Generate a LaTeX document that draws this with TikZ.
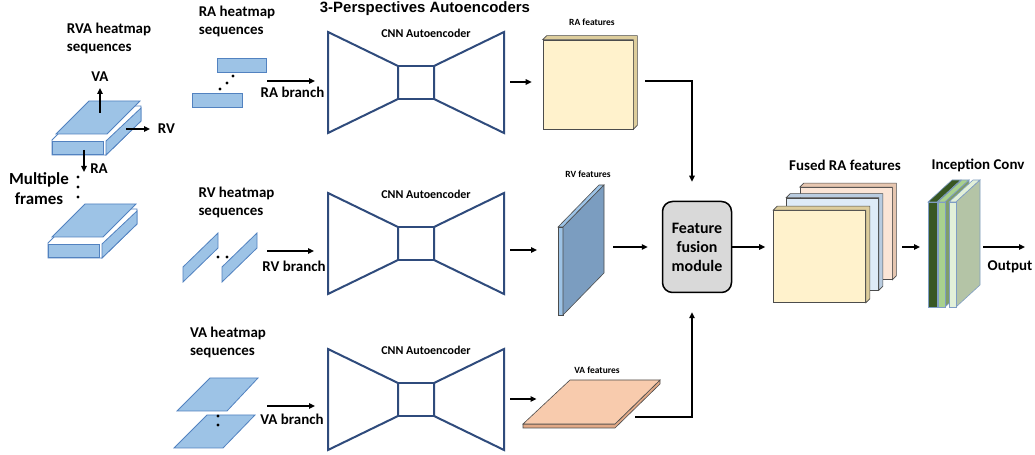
\documentclass[tikz,border=0pt]{standalone}
\usepackage{fontspec}
\setmainfont{Carlito}
\newfontfamily\titlefont{Liberation Sans}
\usetikzlibrary{arrows.meta,positioning}
\definecolor{navy}{HTML}{2F4B7C}
\definecolor{heat}{HTML}{9DC3E6}
\definecolor{heatline}{HTML}{5282C0}
\definecolor{cream}{HTML}{FFF2CC}
\definecolor{creamside}{HTML}{DDCD9C}
\definecolor{peach}{HTML}{F8CBAD}
\definecolor{peachside}{HTML}{E2A986}
\definecolor{paleblue}{HTML}{DEEBF7}
\definecolor{palebluesid}{HTML}{B9CCE0}
\definecolor{palepeach}{HTML}{FBE5D6}
\definecolor{palepeachsid}{HTML}{E6C6B0}
\definecolor{steel}{HTML}{7B9DC0}
\definecolor{fusegray}{HTML}{D9D9D9}
\definecolor{darkgreen}{HTML}{385723}
\definecolor{midgreen}{HTML}{A9D18E}
\definecolor{lightgreen}{HTML}{E2F0D9}
\definecolor{sagegreen}{HTML}{B4C4A6}
\definecolor{slabline}{HTML}{7F9DC4}

\begin{document}
\begin{tikzpicture}[x=1bp,y=-1bp,>={Triangle[length=6bp,width=5.5bp]},
    lbl/.style={font=\fontsize{15}{18}\selectfont\bfseries,inner sep=0pt,align=left},
    small/.style={font=\fontsize{12}{14}\selectfont\bfseries,inner sep=0pt},
    tiny/.style={font=\fontsize{9.5}{11}\selectfont\bfseries,inner sep=0pt},
    heatmap/.style={fill=heat,draw=heatline,line width=.8bp},
    arr/.style={->,line width=1.6bp},
    aeline/.style={navy,line width=2bp,line join=miter},
    ghost/.style={inner sep=0pt,outer sep=0pt},
    feat/.style={draw=black!70,line width=.6bp},
    dot/.style={fill=black}]
    \useasboundingbox[fill=white] (0,0) rectangle (1035,455);

    % titles and input labels
    \node[font=\titlefont\fontsize{15}{18}\selectfont\bfseries,inner sep=0pt] (title) at (425,9) {3-Perspectives Autoencoders};
    \node[lbl] (rvatxt) at (109,38) {RVA heatmap\\sequences};
    \node[lbl] (ratxt) at (237,21) {RA heatmap\\sequences};
    \node[lbl] (rvtxt) at (236.5,202) {RV heatmap\\sequences};
    \node[lbl] (vatxt) at (228,342.5) {VA heatmap\\sequences};
    \node[lbl,align=center,font=\fontsize{17}{20}\selectfont\bfseries] (frames) at (39,189) {Multiple\\frames};

    % RVA blocks (two frames)
    \foreach \dx/\dy in {0/0,-4/103}{
      \begin{scope}[shift={(\dx,\dy)}]
        \filldraw[heatmap,fill=white] (52,140) -- (86,106) -- (141,106) -- (141,121) -- (106,155) -- (52,155) -- cycle;
        \filldraw[heatmap] (52,141) rectangle (103,154);
        \filldraw[heatmap] (106,155) -- (106,141) -- (141,108) -- (141,121) -- cycle;
        \filldraw[heatmap] (56,134) -- (89,101) -- (140,101) -- (107,134) -- cycle;
      \end{scope}
    }
    \foreach \y in {177,187,197}
      \fill[dot] (78,\y) circle (1.7);

    % axis arrows of the RVA block
    \coordinate (va0) at (100,113);
    \coordinate (va1) at (100,88);
    \coordinate (rv0) at (126,129);
    \coordinate (rv1) at (150,129);
    \coordinate (ra0) at (84,150);
    \coordinate (ra1) at (84,172);
    \draw[arr] (va0) -- (va1) node[lbl,above=6bp] (valbl) {VA};
    \draw[arr] (rv0) -- (rv1) node[lbl,right=7bp] (rvlbl) {RV};
    \draw[arr] (ra0) -- (ra1);
    \node[lbl] (ralbl) at (99,169) {RA};

    % RA heatmaps
    \filldraw[heatmap] (217,58) rectangle (266,72);
    \filldraw[heatmap] (192,93) rectangle (242,107);
    \foreach \x/\y in {220/89,227/83,233/76}
      \fill[dot] (\x,\y) circle (1.7);

    % RV heatmaps
    \foreach \dx in {0,39}
      \filldraw[heatmap] (183+\dx,282) -- (183+\dx,267) -- (218+\dx,233) -- (218+\dx,248) -- cycle;
    \foreach \x in {218,227}
      \fill[dot] (\x,257) circle (1.7);

    % VA heatmaps
    \filldraw[heatmap] (177,411) -- (210,378) -- (258,378) -- (227,411) -- cycle;
    \filldraw[heatmap] (174,448) -- (207,415) -- (255,415) -- (223,448) -- cycle;
    \foreach \y in {416,425}
      \fill[dot] (218,\y) circle (1.7);

    % CNN autoencoders
    \foreach \n/\y in {1/32,2/193,3/349}{
      \node[ghost,minimum width=176bp,minimum height=100bp] (ae\n) at (416,\y+50) {};
      \begin{scope}[shift={(328,\y)}]
        \draw[aeline] (0,0) -- (70,34) -- (70,67) -- (0,101) -- cycle;
        \draw[aeline] (176,0) -- (106,34) -- (106,67) -- (176,101) -- cycle;
        \draw[aeline] (70,34) -- (106,34) (70,67) -- (106,67);
      \end{scope}
      \node[small] (aetxt\n) at (426,\y+1) {CNN Autoencoder};
    }

    % branch arrows
    \draw[arr,shorten >=13bp] ([shift={(-61,-1)}]ae1.west) -- ([shift={(0,-1)}]ae1.west);
    \node[lbl] (rabr) at (292.5,92) {RA branch};
    \draw[arr,shorten >=14bp] ([shift={(-61,8)}]ae2.west) -- ([shift={(0,8)}]ae2.west);
    \node[lbl] (rvbr) at (294,266) {RV branch};
    \draw[arr,shorten >=13bp] ([shift={(-61,7)}]ae3.west) -- ([shift={(0,7)}]ae3.west);
    \node[lbl] (vabr) at (292,419) {VA branch};

    % RA features
    \node[feat,fill=cream,minimum width=90bp,minimum height=89bp] (raf) at (588,84.5) {};
    \filldraw[feat,fill=creamside] (raf.north west) -- ([shift={(4,-4)}]raf.north west) -- ([shift={(4,-4)}]raf.north east)
      -- ([shift={(4,-4)}]raf.south east) -- (raf.south east) -- (raf.north east) -- cycle;
    \node[tiny] (raftxt) at (592,22) {RA features};

    % RV features
    \node[ghost,minimum width=46bp,minimum height=130bp] (rvf) at (581,250) {};
    \filldraw[feat,fill=heat] (558,227) -- (599,185) -- (604,185) -- (563,227) -- cycle;
    \filldraw[feat,fill=heat] (558,227) rectangle (563,315);
    \filldraw[feat,fill=steel] (563,227) -- (604,185) -- (604,273) -- (563,315) -- cycle;
    \node[tiny] (rvftxt) at (588,174) {RV features};

    % VA features
    \node[ghost,minimum width=137bp,minimum height=50bp] (vaf) at (591.5,405) {};
    \filldraw[feat,fill=peachside] (523,424) -- (615,424) -- (660,380) -- (660,384) -- (615,428) -- (523,428) -- cycle;
    \filldraw[feat,fill=peach] (523,424) -- (570,380) -- (660,380) -- (615,424) -- cycle;
    \node[tiny] (vaftxt) at (597,370) {VA features};

    % features to autoencoders
    \draw[arr,shorten <=6bp,shorten >=11bp] (ae1.east) -- (ae1.east -| raf.west);
    \draw[arr,shorten <=6bp,shorten >=21bp] (ae2.east |- rvf.west) -- (rvf.west);
    \draw[arr,shorten <=6bp,shorten >=55bp] (ae3.east) -- (ae3.east -| vaf.center);

    % fusion
    \node[draw,line width=1.5bp,fill=fusegray,rounded corners=10bp,minimum width=69bp,minimum height=91bp,align=center,
      font=\fontsize{16}{19}\selectfont\bfseries,inner sep=0pt] (fusion) at (697,247) {Feature\\fusion\\module};
    \draw[arr,shorten >=19bp] ([shift={(12,-3.5)}]raf.east) -| ([shift={(-5,0)}]fusion.north);
    \draw[arr,shorten <=9bp,shorten >=14bp] (rvf.east |- fusion.west) -- (fusion.west);
    \draw[arr,shorten >=19bp] ([shift={(-25,12)}]vaf.east) -| ([shift={(-5,0)}]fusion.south);

    % fused RA features
    \foreach \nm/\cx/\cy/\col/\sid in {frb/846/233.5/palepeach/palepeachsid,frm/832.5/244/paleblue/palebluesid,frf/819.5/256.5/cream/creamside}{
      \node[feat,fill=\col,minimum width=92bp,minimum height=92bp] (\nm) at (\cx,\cy) {};
      \filldraw[feat,fill=\sid] (\nm.north west) -- ([shift={(4,-4)}]\nm.north west) -- ([shift={(4,-4)}]\nm.north east)
        -- ([shift={(4,-4)}]\nm.south east) -- (\nm.south east) -- (\nm.north east) -- cycle;
    }
    \node[lbl] (fusedtxt) at (845,165) {Fused RA features};
    \draw[arr,shorten >=8bp] (fusion.east) -- (fusion.east -| frf.west);

    % inception conv
    \node[ghost,minimum width=52bp,minimum height=127bp] (inc) at (954,243.5) {};
    \foreach \xa/\w/\front/\sid in {928/9/darkgreen/darkgreen,938/7/midgreen/midgreen!75!black,949/7/lightgreen/sagegreen}{
      \filldraw[draw=slabline,line width=.6bp,fill=\front] (\xa,202) -- (\xa+24,180) -- (\xa+\w+24,180) -- (\xa+\w,202) -- cycle;
      \filldraw[draw=slabline,line width=.6bp,fill=\sid] (\xa+\w,202) -- (\xa+\w+24,180) -- (\xa+\w+24,285) -- (\xa+\w,307) -- cycle;
      \filldraw[draw=slabline,line width=.6bp,fill=\front] (\xa,202) rectangle (\xa+\w,307);
    }
    \node[lbl] (inctxt) at (978,165) {Inception Conv};
    \draw[arr,shorten <=10bp,shorten >=8bp] (frb.east |- fusion.east) -- (inc.west |- fusion.east);

    % output
    \coordinate (out) at (1025,247);
    \draw[arr,shorten <=3bp] (inc.east |- out) -- (out);
    \node[lbl] (outtxt) at (1010,267) {Output};
  \end{tikzpicture}
\end{document}
